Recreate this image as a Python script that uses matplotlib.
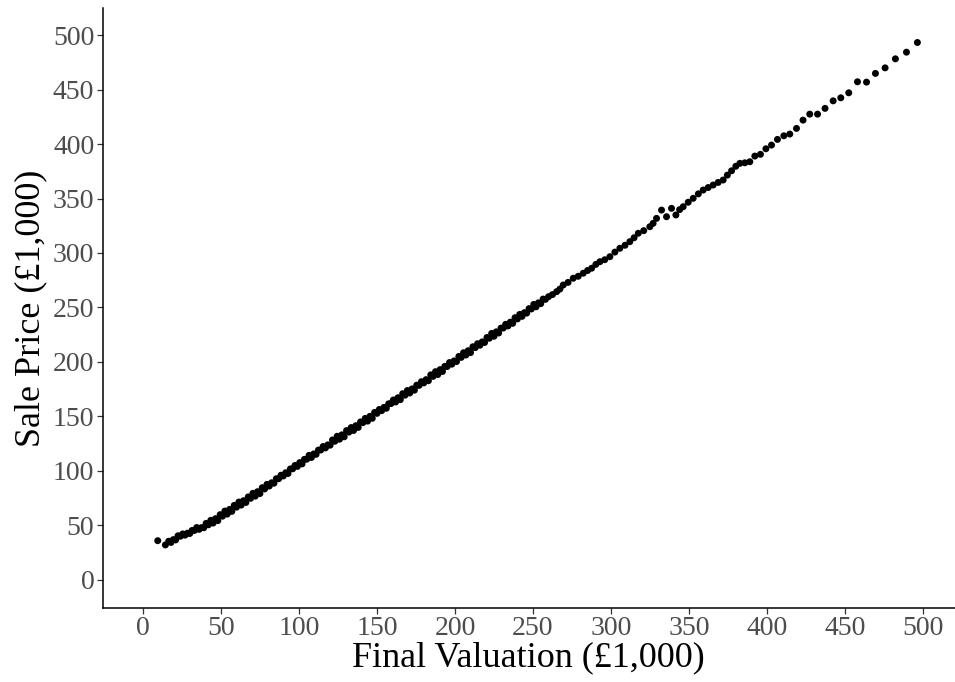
import matplotlib.pyplot as plt

# ---------------------------------------------------------------------------
# Data — final valuation vs sale price (both in £1,000)
# ---------------------------------------------------------------------------

VALUATION = [
    9.5, 14.4, 16.5, 18, 19.5, 21, 22.5, 24, 25.5, 27, 28.5, 30, 31.5, 33, 34.5,
    36, 37.5, 39, 40.5, 42, 43.5, 45, 46.5, 48, 49.5, 51, 52.5, 54, 55.5, 57,
    58.5, 60, 61.5, 63, 64.5, 66, 67.5, 69, 70.5, 72, 73.5, 75, 76.5, 78, 79.5,
    81, 82.5, 84, 85.5, 87, 88.5, 90, 91.5, 93, 94.5, 96, 97.5, 99, 100.5, 102,
    103.5, 105, 106.5, 108, 109.5, 111, 112.5, 114, 115.5, 117, 118.5, 120,
    121.5, 123, 124.5, 126, 127.5, 129, 130.5, 132, 133.5, 135, 136.5, 138,
    139.5, 141, 142.5, 144, 145.5, 147, 148.5, 150, 151.5, 153, 154.5, 156,
    157.5, 159, 160.5, 162, 163.5, 165, 166.5, 168, 169.5, 171, 172.5, 174,
    175.5, 177, 178.5, 180, 181.5, 183, 184.5, 186, 187.5, 189, 190.5, 192,
    193.5, 195, 196.5, 198, 199.5, 201, 202.5, 204, 205.5, 207, 208.5, 210,
    211.5, 213, 214.5, 216, 217.5, 219, 220.5, 222, 223.5, 225, 226.5, 228,
    229.5, 231, 232.5, 234, 235.5, 237, 238.5, 240, 241.5, 243, 244.5, 246,
    247.5, 249, 250.5, 252, 253.5, 255, 256.5, 258, 260,
    262.5, 265.2, 267.3, 269.4, 272.5, 275.8, 279, 282.2, 285, 287.6, 290.3,
    292.9, 296, 299.3, 302.5, 305.7, 309, 312.1, 314.8, 317.5, 321, 324.9, 327,
    329.2, 332.4, 335.6, 338.8, 341.6, 344, 346.3, 349.5, 352.7, 356, 359.1,
    362.3, 365.5, 368.7, 371.9, 374.6, 377.3, 380,
    382.6, 385.8, 389.0, 392.2, 395.8, 399.3, 402.9, 406.7, 410.8, 414.6,
    418.9, 423.1, 427.4, 432.4, 437.2, 442.4, 447.3, 452.4, 458.0, 463.8,
    469.5, 475.7, 482.3, 489.4, 496.4,
]

SALE_PRICE = [
    35.8, 31.9, 35.3, 34.2, 36.8, 36.5, 40.3, 39.9, 42.0, 40.9, 42.7, 42.4, 45.2,
    45.2, 47.9, 46.2, 47.8, 47.7, 51.7, 50.4, 54.5, 52.0, 56.0, 54.2, 59.7, 58.3,
    63.0, 60.2, 64.5, 62.7, 68.2, 66.6, 71.3, 68.5, 72.5, 70.9, 76.0, 74.7, 79.3,
    76.7, 80.8, 79.1, 84.5, 83.3, 87.5, 86.0, 89.0, 88.6, 92.7, 92.7, 95.9, 95.2,
    98.2, 97.5, 101.7, 101.8, 104.9, 104.0, 107.5, 106.3, 110.5, 110.6, 114.2,
    112.2, 115.5, 115.1, 119.0, 119.1, 122.3, 121.0, 123.8, 123.5, 128.3, 127.1,
    131.7, 129.0, 133.0, 131.2, 136.9, 135.5, 139.7, 137.0, 141.4, 139.8, 144.9,
    144.2, 148.1, 145.6, 150.0, 148.2, 153.6, 152.7, 156.3, 155.2, 158.2, 157.4,
    161.5, 161.7, 165.0, 163.2, 167.1, 165.3, 170.8, 169.4, 173.7, 171.4, 175.2,
    174.0, 178.6, 178.4, 181.8, 180.7, 183.7, 182.7, 188.1, 186.7, 191.0, 188.4,
    192.9, 191.2, 195.9, 195.7, 199.4, 197.9, 200.9, 200.3, 205.0, 204.1, 208.4,
    206.3, 210.3, 208.5, 213.9, 213.1, 216.7, 215.3, 218.4, 217.8, 222.4, 221.7,
    226.1, 223.5, 227.6, 226.5, 231.0, 231.1, 234.5, 233.0, 236.5, 235.4, 240.6,
    239.4, 243.6, 241.8, 245.2, 244.8, 248.9, 248.6, 252.8, 250.6, 254.2, 253.5,
    257.7, 257.4, 259.9,
    261.8, 264.5, 266.9, 270.6, 273.0, 276.8, 278.6, 281.4, 283.9, 286.0, 289.5,
    292.0, 293.8, 296.6, 300.8, 304.3, 307.1, 310.4, 314.0, 318.1, 320.5, 324.1,
    327.2, 331.8, 339.4, 333.3, 341.0, 334.9, 339.8, 342.5, 346.6, 350.2, 354.3,
    357.8, 360.1, 362.4, 364.8, 367.0, 371.5, 375.5, 379.6,
    382.3, 382.8, 383.8, 389.0, 390.6, 395.7, 399.1, 404.3, 407.6, 409.2,
    414.4, 422.0, 427.5, 427.5, 432.8, 439.7, 442.5, 447.1, 457.2, 456.9,
    464.9, 470.0, 478.3, 484.4, 493.3,
]

TICKS = [0, 50, 100, 150, 200, 250, 300, 350, 400, 450, 500]

# ---------------------------------------------------------------------------
# Style
# ---------------------------------------------------------------------------

plt.rcParams["font.family"] = ["Liberation Serif", "DejaVu Serif"]
TICK_GREY = "#4D4D4D"

fig = plt.figure(figsize=(9.55, 6.82), dpi=100)
ax = fig.add_axes([0.1075, 0.109, 0.8925, 0.879])

ax.scatter(VALUATION, SALE_PRICE, s=25, color="black", edgecolors="none", zorder=3)

ax.set_xlim(-25.8, 520.5)
ax.set_ylim(-25.7, 524.8)
ax.set_xticks(TICKS)
ax.set_yticks(TICKS)

ax.spines[["top", "right"]].set_visible(False)
for side in ("left", "bottom"):
    ax.spines[side].set_linewidth(1.1)
ax.tick_params(axis="both", length=4, width=0.9, color="#333333",
               labelsize=20, labelcolor=TICK_GREY)
ax.tick_params(axis="x", pad=2)
ax.tick_params(axis="y", pad=2)

ax.set_xlabel("Final Valuation (£1,000)", fontsize=26, labelpad=0)
ax.set_ylabel("Sale Price (£1,000)", fontsize=26, labelpad=4)

plt.savefig("out.png", dpi=100, facecolor="white")
